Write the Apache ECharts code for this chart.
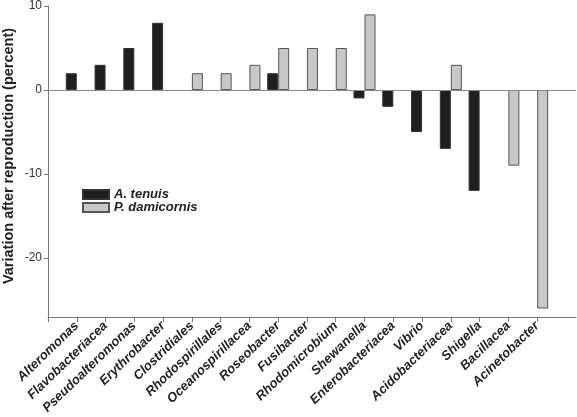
<!DOCTYPE html>
<html><head><meta charset="utf-8">
<script src="https://cdn.jsdelivr.net/npm/echarts@6/dist/echarts.min.js"></script>
<style>html,body{margin:0;padding:0;background:#fff}#c{width:577px;height:417px}</style>
</head><body><div id="c"></div>
<script>
const categories = ['Alteromonas','Flavobacteriacea','Pseudoalteromonas','Erythrobacter','Clostridiales','Rhodospirillales','Oceanospirillacea','Roseobacter','Fusibacter','Rhodomicrobium','Shewanella','Enterobacteriacea','Vibrio','Acidobacteriacea','Shigella','Bacillacea','Acinetobacter'];
const tenuis = [2,3,5,8,null,null,null,2,null,null,-1,-2,-5,-7,-12,null,null];
const damicornis = [null,null,null,null,2,2,3,5,5,5,9,null,null,3,null,-9,-26];
const yTicks = [-20,-10,0,10];
const seriesNames = ['A. tenuis','P. damicornis'];

const chart = echarts.init(document.getElementById('c'));
const toPts = arr => arr.map((v,i)=> v===null ? null : [i+1, v]).filter(d=>d);
const xTickVals = [0].concat(categories.map((c,i)=>i+1));
chart.setOption({
  animation:false,
  grid:{left:48, right:1, top:4, bottom:94},
  legend:{left:77, top:183, orient:'vertical', itemWidth:26, itemHeight:9, itemGap:0, icon:'rect',
    textStyle:{fontFamily:'Liberation Sans', fontWeight:'bold', fontStyle:'italic', fontSize:13, color:'#222'},
    data:seriesNames},
  xAxis:{type:'value', min:0, max:18.35,
    axisLine:{onZero:false, lineStyle:{color:'#777', width:1}},
    axisTick:{show:true, length:5, customValues:xTickVals, lineStyle:{color:'#777'}},
    splitLine:{show:false},
    axisLabel:{customValues:categories.map((c,i)=>i+1), formatter:v=>categories[Math.round(v)-1]||'', rotate:44, margin:7,
      fontFamily:'Liberation Sans', fontWeight:'bold', fontStyle:'italic', fontSize:13, color:'#222'}},
  yAxis:{type:'value', min:-27, max:10,
    axisLine:{show:true, lineStyle:{color:'#777', width:1}},
    axisTick:{show:true, length:4, customValues:yTicks, lineStyle:{color:'#777'}},
    axisLabel:{customValues:yTicks, fontFamily:'Liberation Sans', fontSize:12, color:'#333', margin:6},
    splitLine:{show:false}},
  graphic:[{type:'text', x:9, y:156, rotation:Math.PI/2,
    style:{text:'Variation after reproduction (percent)', fill:'#222', font:'bold 14.5px "Liberation Sans"', textAlign:'center', textVerticalAlign:'middle'}}],
  series:[
    {name:seriesNames[0], type:'bar', data:toPts(tenuis), barWidth:11, barGap:'0%',
     itemStyle:{color:'#1f1f1f', borderColor:'#333', borderWidth:1},
     markLine:{silent:true, symbol:'none', label:{show:false}, lineStyle:{color:'#888', width:1, type:'solid'}, data:[{yAxis:0}]}},
    {name:seriesNames[1], type:'bar', data:toPts(damicornis), barWidth:11, barGap:'0%',
     itemStyle:{color:'#c8c8c8', borderColor:'#555', borderWidth:1}}
  ]
});
</script></body></html>
